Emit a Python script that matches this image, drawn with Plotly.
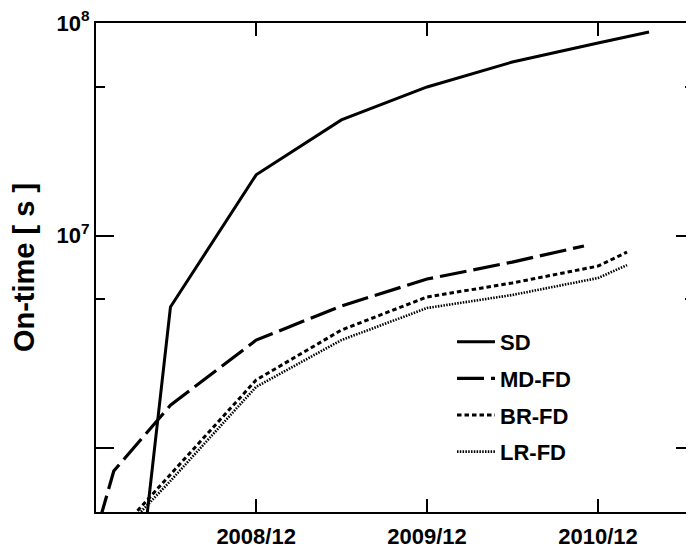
import plotly.graph_objects as go

# ---- data ----
sd_dates = ["2008-03-01", "2008-06-01", "2008-12-01", "2009-06-01", "2009-12-01",
            "2010-06-01", "2010-12-01", "2011-03-20"]
sd_vals = [7.3e4, 4.61e6, 1.93e7, 3.50e7, 5.0e7, 6.55e7, 8.05e7, 9.07e7]

md_dates = ["2008-01-01", "2008-02-01", "2008-06-01", "2008-12-01", "2009-06-01",
            "2009-12-01", "2010-06-01", "2010-11-01"]
md_vals = [4.5e5, 7.8e5, 1.59e6, 3.22e6, 4.66e6, 6.24e6, 7.5e6, 8.93e6]

br_dates = ["2008-03-01", "2008-06-01", "2008-12-01", "2009-06-01", "2009-12-01",
            "2010-06-01", "2010-12-01", "2011-02-01"]
br_vals = [4.49e5, 7.5e5, 2.09e6, 3.59e6, 5.14e6, 5.98e6, 7.18e6, 8.36e6]

lr_dates = ["2008-03-01", "2008-06-01", "2008-12-01", "2009-06-01", "2009-12-01",
            "2010-06-01", "2010-12-01", "2011-02-01"]
lr_vals = [4.3e5, 7.0e5, 1.94e6, 3.22e6, 4.56e6, 5.25e6, 6.31e6, 7.26e6]

x_tickvals = ["2008-12-01", "2009-12-01", "2010-12-01"]
x_ticktext = ["2008/12", "2009/12", "2010/12"]
y_tickvals = [1e6, 1e7, 1e8]
y_ticktext = [" ", "10<sup>7</sup>", "10<sup>8</sup>"]
y_minor = [5e6, 5e7]

FONT = "Liberation Sans, Arial, sans-serif"

fig = go.Figure()
series = [
    ("SD", sd_dates, sd_vals, "solid", 3),
    ("MD-FD", md_dates, md_vals, "27px,7px", 3.2),
    ("BR-FD", br_dates, br_vals, "4.5px,3px", 3),
    ("LR-FD", lr_dates, lr_vals, "1.5px,1.3px", 2.6),
]
for name, xs, ys, dash, w in series:
    fig.add_trace(go.Scatter(
        x=xs, y=ys, mode="lines", name=name, legendgroup=name,
        line=dict(color="black", width=w, dash=dash),
        cliponaxis=True,
    ))

# page body has an 8px margin, so the figure is sized to fit inside it
fig.update_layout(
    width=686, height=538,
    margin=dict(l=88, r=0, t=15, b=34),
    paper_bgcolor="white", plot_bgcolor="white",
    font=dict(family=FONT, color="black", size=22, weight="bold"),
    showlegend=True,
    legend=dict(
        x=(452 - 96) / 598, y=(512 - 321) / 489,
        xanchor="left", yanchor="top",
        bgcolor="rgba(0,0,0,0)", borderwidth=0,
        font=dict(family=FONT, size=22, color="black", weight="bold"),
        tracegroupgap=5, itemwidth=38,
    ),
)

fig.update_xaxes(
    type="date",
    range=["2007-12-25", "2011-06-24"],
    tickvals=x_tickvals, ticktext=x_ticktext,
    ticks="inside", ticklen=13, tickwidth=2, tickcolor="black",
    showline=True, linewidth=2, linecolor="black", mirror="allticks",
    showgrid=False, zeroline=False, automargin=False,
    tickfont=dict(family=FONT, size=22, color="black", weight="bold"),
    ticklabelstandoff=4, ticklabeloverflow="allow",
)
fig.update_yaxes(
    type="log",
    range=[5.69897, 8],
    tickvals=y_tickvals, ticktext=y_ticktext,
    ticks="inside", ticklen=18, tickwidth=2, tickcolor="black",
    showline=True, linewidth=2, linecolor="black", mirror="ticks",
    showgrid=False, zeroline=False, automargin=False,
    minor=dict(tickvals=y_minor, ticks="inside", ticklen=9, tickwidth=2,
               tickcolor="black", showgrid=False),
    tickfont=dict(family=FONT, size=22, color="black", weight="bold"),
    ticklabeloverflow="allow",
    title=dict(text="On-time [ s ]", standoff=13,
               font=dict(family=FONT, size=29, color="black", weight="bold")),
)

fig.write_html("out.html")
